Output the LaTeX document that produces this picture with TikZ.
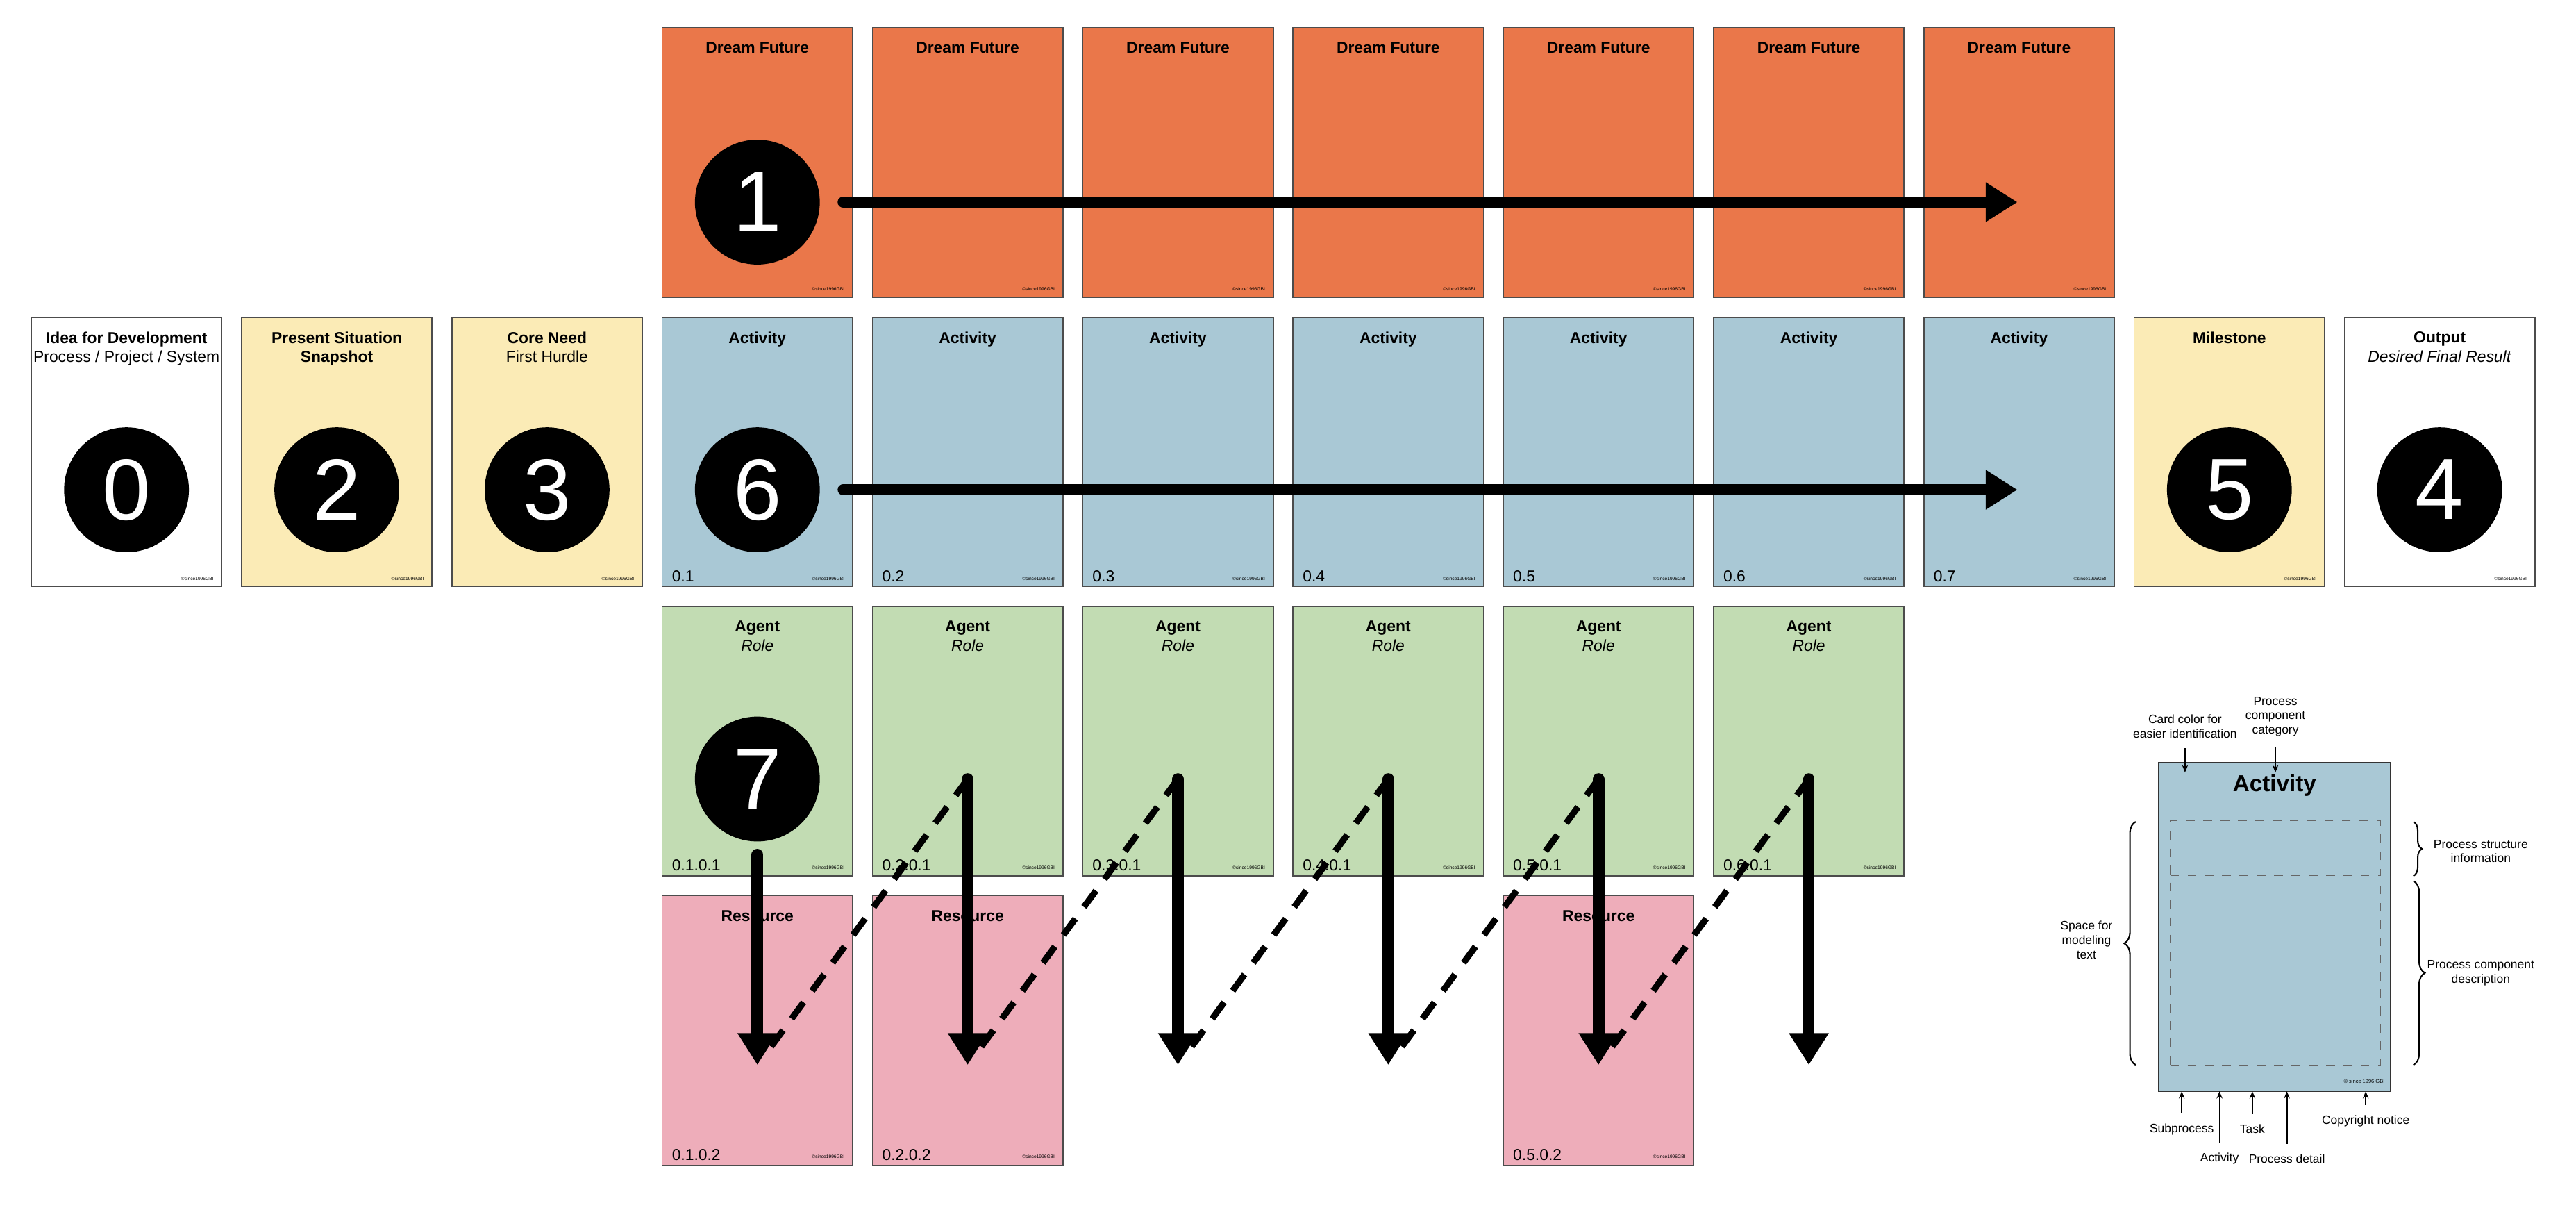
\documentclass[tikz,border=0pt]{standalone}
\usepackage{fontspec}
\setmainfont{Liberation Sans}
\usetikzlibrary{arrows.meta}
\usetikzlibrary{decorations.pathreplacing}
\usetikzlibrary{positioning}

\definecolor{dreamc}{HTML}{EA774A}
\definecolor{actc}{HTML}{A9C8D5}
\definecolor{agentc}{HTML}{C2DCB3}
\definecolor{sitc}{HTML}{FBEBB6}
\definecolor{resc}{HTML}{EEADBA}

\tikzset{
  card/.style={draw=black!70, line width=0.4pt, minimum width=2.32cm, minimum height=3.28cm, inner sep=0pt},
  ttl/.style={font=\fontsize{5.5}{6.6}\selectfont, align=center, anchor=north},
  numtxt/.style={font=\fontsize{5.5}{6.6}\selectfont, anchor=south west, inner sep=0pt},
  copy/.style={font=\fontsize{1.6}{2}\selectfont, anchor=south east, inner sep=0pt},
  badge/.style={circle, fill=black, text=white, minimum size=1.52cm, inner sep=0pt, font=\fontsize{30}{30}\selectfont},
  flow/.style={line width=4pt, line cap=round, -{Triangle[width=13pt,length=11pt]}},
  link/.style={line width=2.2pt, dash pattern=on 7pt off 5pt},
  note/.style={font=\fontsize{4.2}{5}\selectfont, align=center},
  pin/.style={line width=0.5pt, -{Stealth[length=2.5pt,width=2pt]}}
}

\newcommand{\cardat}[5]{% name, x, y, colour, title
  \node[card, fill=#4] (#1) at (#2,#3) {};
  \node[ttl] at ([yshift=-0.06cm]#1.north) {#5};
  \node[copy] at ([xshift=-0.1cm,yshift=0.08cm]#1.south east) {\copyright since1996GBI};
}

\begin{document}
\begin{tikzpicture}[x=0.02cm, y=-0.02cm]
  \useasboundingbox (0,0) rectangle (1568,736);

  % dream future row
  \foreach \i in {1,...,7} {
    \cardat{d\i}{333+128*\i}{99}{dreamc}{\textbf{Dream Future}}
  }

  % activity row
  \foreach \i in {1,...,7} {
    \cardat{a\i}{333+128*\i}{275}{actc}{\textbf{Activity}}
    \node[numtxt] at ([xshift=0.12cm,yshift=0.06cm]a\i.south west) {0.\i};
  }
  \cardat{idea}{77}{275}{white}{\textbf{Idea for Development}\\Process / Project / System}
  \cardat{sit}{205}{275}{sitc}{\textbf{Present Situation}\\\textbf{Snapshot}}
  \cardat{core}{333}{275}{sitc}{\textbf{Core Need}\\First Hurdle}
  \cardat{mile}{1357}{275}{sitc}{\textbf{Milestone}}
  \cardat{out}{1485}{275}{white}{\textbf{Output}\\\textit{Desired Final Result}}

  % agent row
  \foreach \i in {1,...,6} {
    \cardat{g\i}{333+128*\i}{451}{agentc}{\textbf{Agent}\\\textit{Role}}
    \node[numtxt] at ([xshift=0.12cm,yshift=0.06cm]g\i.south west) {0.\i.0.1};
  }

  % resource row
  \foreach \i in {1,2,5} {
    \cardat{r\i}{333+128*\i}{627}{resc}{\textbf{Resource}}
    \node[numtxt] at ([xshift=0.12cm,yshift=0.06cm]r\i.south west) {0.\i.0.2};
  }

  % badges
  \node[badge] (b0) at (77,298) {0};
  \node[badge] (b2) at (205,298) {2};
  \node[badge] (b3) at (333,298) {3};
  \node[badge] (b5) at (1357,298) {5};
  \node[badge] (b4) at (1485,298) {4};
  \node[badge] (b1) at (461,123) {1};
  \node[badge] (b6) at (461,298) {6};
  \node[badge] (b7) at (461,474) {7};

  % horizontal flows
  \coordinate (e1) at (1228,123);
  \coordinate (e6) at (1228,298);
  \draw[flow] ([xshift=0.28cm]b1.east) -- (e1);
  \draw[flow] ([xshift=0.28cm]b6.east) -- (e6);

  % vertical flows and links
  \coordinate (s1) at (461,520);
  \coordinate (t1) at (461,648);
  \foreach \i in {2,...,6} {
    \coordinate (s\i) at (333+128*\i,474);
    \coordinate (t\i) at (333+128*\i,648);
  }
  \foreach \i in {1,...,6} {
    \draw[flow] (s\i) -- (t\i);
  }
  \foreach \i [evaluate=\i as \j using int(\i-1)] in {2,...,6} {
    \draw[link] (s\i) -- ([xshift=0.12cm,yshift=0.16cm]t\j);
  }

  % legend card
  \node[draw=black!80, fill=actc, minimum width=2.82cm, minimum height=4cm, inner sep=0pt] (leg) at (1384.5,564) {};
  \node[font=\bfseries\fontsize{8}{9}\selectfont] (legt) at (1384.5,478) {Activity};
  \node[draw=black!60, dashed, line width=0.3pt, minimum width=2.56cm, minimum height=0.66cm, inner sep=0pt] (upbox) at (1385,516) {};
  \node[draw=black!60, dashed, line width=0.3pt, minimum width=2.56cm, minimum height=2.24cm, inner sep=0pt] (lowbox) at (1385,592) {};
  \node[copy, font=\fontsize{1.8}{2}\selectfont] at ([xshift=-0.07cm,yshift=0.1cm]leg.south east) {\copyright\ since 1996 GBI};

  \draw[decorate, decoration={brace, amplitude=4pt}, line width=0.5pt] (1300,648) -- (1300,500);
  \node[note] (space) at (1270,572) {Space for\\modeling\\text};
  \draw[decorate, decoration={brace, amplitude=3pt}, line width=0.5pt] (1469,500) -- (1469,533);
  \node[note] (psi) at (1510,518) {Process structure\\information};
  \draw[decorate, decoration={brace, amplitude=4pt}, line width=0.5pt] (1469,536) -- (1469,648);
  \node[note] (pcd) at (1510,592) {Process component\\description};

  \node[note] (cc) at (1330,442) {Card color for\\easier identification};
  \node[note] (pcc) at (1385,436) {Process\\component\\category};
  \draw[pin] (cc.south) -- (1330,470);
  \draw[pin] (pcc.south) -- (1385,470);

  \node[note] (sub) at (1328,687) {Subprocess};
  \node[note] (act) at (1351,705) {Activity};
  \node[note] (task) at (1371,687) {Task};
  \node[note] (pd) at (1392,705) {Process detail};
  \node[note] (cn) at (1440,682) {Copyright notice};
  \foreach \n/\x in {sub/1328,act/1351,task/1371,pd/1392,cn/1440} {
    \draw[pin] (\n.north) -- (\x,664);
  }
\end{tikzpicture}
\end{document}
